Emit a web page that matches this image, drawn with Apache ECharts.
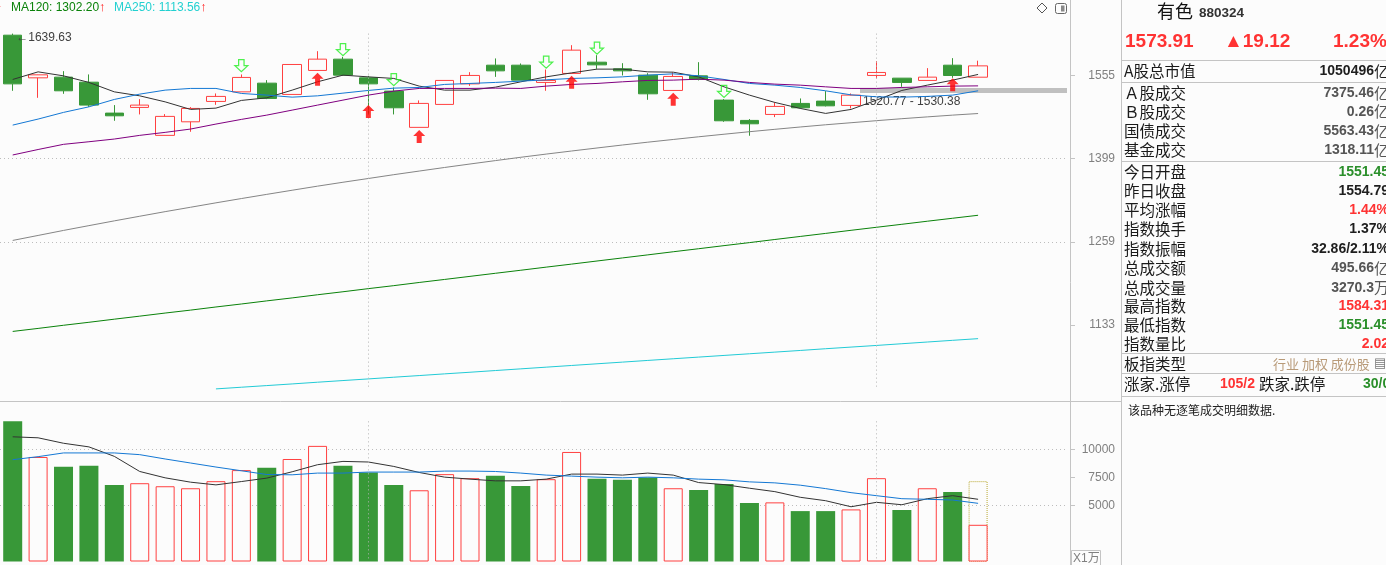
<!DOCTYPE html>
<html>
<head>
<meta charset="utf-8">
<title>有色 880324</title>
<script src="https://cdn.jsdelivr.net/npm/echarts@6.0.0/dist/echarts.min.js"></script>
<style>
html,body{margin:0;padding:0;background:#fcfcfc;overflow:hidden;}
#chart{width:1386px;height:565px;}
</style>
</head>
<body>
<div id="chart"></div>
<script>
// ---------------- DATA ----------------
const categories = ['K01','K02','K03','K04','K05','K06','K07','K08','K09','K10','K11','K12','K13','K14','K15','K16','K17','K18','K19','K20',
  'K21','K22','K23','K24','K25','K26','K27','K28','K29','K30','K31','K32','K33','K34','K35','K36','K37','K38','K39'];
const opens  = [1636.4,1550.2,1551.6,1541.7,1482.4,1493.1,1441.1,1466.1,1504.5,1522.9,1539.8,1517.9,1564.8,1587.4,1550.2,1524.3,1455.8,1498.8,1538.4,1575.3,
  1575.3,1541.2,1558.9,1581.3,1568.0,1555.5,1525.6,1554.1,1507.0,1468.7,1479.9,1500.7,1505.1,1496.9,1554.9,1549.6,1545.1,1575.3,1551.45];
const closes = [1538.4,1556.1,1524.9,1497.5,1477.3,1497.5,1476.2,1491.2,1514.1,1551.0,1510.2,1576.7,1587.4,1555.5,1538.4,1492.4,1500.7,1545.1,1554.9,1564.0,
  1545.7,1545.1,1605.6,1575.9,1564.0,1519.1,1552.9,1547.0,1468.0,1462.4,1495.0,1492.4,1496.1,1516.6,1560.8,1541.2,1551.6,1554.79,1573.91];
const lows   = [1524.9,1511.4,1519.1,1494.2,1468.0,1479.9,1441.1,1447.7,1498.0,1522.9,1508.9,1517.9,1564.8,1554.1,1479.9,1479.9,1455.8,1498.8,1534.5,1552.1,
  1545.7,1524.9,1558.9,1568.0,1554.9,1507.6,1525.6,1545.1,1466.1,1440.4,1474.9,1491.2,1495.0,1491.2,1549.0,1532.6,1545.1,1550.2,1551.45];
const highs  = [1639.63,1556.4,1563.4,1556.9,1497.5,1508.9,1480.5,1493.7,1519.8,1556.9,1545.7,1577.2,1603.5,1592.0,1554.1,1531.4,1506.4,1545.1,1561.4,1588.8,
  1578.7,1566.7,1615.8,1595.4,1579.3,1559.4,1560.8,1581.3,1508.9,1471.2,1502.6,1510.2,1524.3,1519.8,1583.4,1549.6,1569.4,1589.4,1584.31];

const ma5   = [1547.0,1562.0,1554.1,1541.2,1522.9,1515.2,1503.7,1489.3,1491.8,1506.4,1511.4,1526.2,1542.4,1555.5,1552.1,1549.0,1534.0,1526.2,1526.2,1532.0,
  1542.4,1552.1,1560.0,1567.4,1567.4,1562.0,1561.4,1552.1,1532.6,1516.6,1502.6,1491.2,1481.8,1489.3,1507.0,1525.6,1535.9,1545.7,1556.9];
const ma10  = [1460.0,1471.2,1483.7,1494.2,1508.3,1518.5,1526.2,1529.5,1529.5,1519.8,1516.6,1512.7,1515.2,1520.4,1525.6,1530.1,1531.4,1537.3,1539.2,1541.2,
  1543.7,1546.3,1549.0,1550.2,1552.1,1555.5,1558.1,1554.1,1547.0,1539.2,1535.9,1531.4,1524.9,1517.1,1513.3,1512.7,1514.1,1516.6,1524.9];
const ma20  = [1405.7,1415.5,1424.8,1429.5,1434.4,1441.1,1446.6,1452.7,1461.9,1470.6,1478.6,1488.0,1497.5,1507.0,1516.6,1524.3,1529.5,1529.5,1529.5,1530.1,
  1529.5,1534.0,1537.3,1539.2,1542.4,1545.1,1545.7,1547.6,1545.7,1541.2,1537.9,1535.9,1532.6,1529.5,1529.5,1531.4,1532.6,1534.0,1534.5];
const ma60  = [1261.3,1269.3,1277.4,1285.2,1293.0,1300.6,1308.2,1315.5,1322.9,1330.1,1337.2,1344.2,1351.2,1357.9,1364.4,1371.0,1377.3,1383.6,1389.7,1395.7,
  1401.6,1407.3,1412.8,1418.2,1423.6,1428.7,1433.6,1438.5,1443.2,1447.8,1452.2,1456.5,1460.6,1464.4,1468.2,1471.9,1475.3,1478.6,1481.6];
const ma120 = [1123.8,1128.1,1132.6,1136.9,1141.4,1145.8,1150.3,1154.6,1159.2,1163.6,1168.2,1172.6,1177.3,1181.8,1186.5,1191.0,1195.8,1200.4,1205.1,1209.8,
  1214.5,1219.3,1224.0,1228.8,1233.6,1238.4,1243.3,1248.1,1253.0,1257.8,1262.8,1267.7,1272.6,1277.6,1282.5,1287.4,1292.4,1297.3,1302.20];
const ma250 = [null,null,null,null,null,null,null,null,1044.8,1047.0,1049.2,1051.4,1053.7,1055.9,1058.1,1060.4,1062.6,1064.9,1067.1,1069.4,
  1071.7,1074.0,1076.3,1078.6,1080.9,1083.2,1085.5,1087.8,1090.1,1092.4,1094.7,1097.0,1099.4,1101.7,1104.0,1106.4,1108.8,1111.2,1113.56];

const volumes = [12489,9316,8446,8536,6828,6978,6708,6528,7158,8146,8356,9136,10305,8536,7936,6828,6348,7786,7426,7637,
  6738,7337,9763,7367,7277,7487,6528,6379,6918,5211,5271,4492,4492,4642,7426,4581,6528,6199,3270.3];
const forecastVolume = 7160;
const volMa5  = [11114,11025,10539,10216,9371,8024,7458,7071,6829,7125,7431,7997,8626,8922,8868,8473,7934,7520,7341,7188,
  7188,7341,7790,7790,7700,7880,7700,7035,6855,6532,6227,5723,5418,4879,5274,5059,5598,5867,5544];
const volMa10 = [9075,9344,9677,9677,9677,9524,9138,8778,8419,8087,7754,7727,7880,7880,7970,7970,7970,8060,8060,8024,
  7880,7700,7610,7520,7458,7520,7458,7341,7278,7098,7008,6802,6496,6137,5867,5598,5544,5481,5184];

const upArrowIdx   = [12,14,16,22,26,37];
const upArrowVal   = [1547.6,1485.2,1438.9,1541.7,1508.9,1536.9];
const downArrowIdx = [9,13,15,21,23,28];
const downArrowVal = [1574.3,1606.6,1546.6,1581.3,1609.7,1523.7];
const separatorIdx = [14,34];
const rangeBand = [1520.77,1530.38];

const priceTicks = [1133,1259,1399,1555];
const volTicks = [5000,7500,10000];

const headerName = '有色', headerCode = '880324';
const headerQuote = ['1573.91','▲19.12','1.23%'];
const panelLabels = ['A股总市值','Ａ股成交','Ｂ股成交','国债成交','基金成交','今日开盘','昨日收盘','平均涨幅','指数换手','指数振幅',
  '总成交额','总成交量','最高指数','最低指数','指数量比','板指类型'];
const panelValues = ['1050496亿','7375.46亿','0.26亿','5563.43亿','1318.11亿','1551.45','1554.79','1.44%','1.37%','32.86/2.11%',
  '495.66亿','3270.3万','1584.31','1551.45','2.02','行业 加权 成份股'];
const panelTones  = ['k','g','g','g','g','up','k','dn','k','k','g','g','dn','up','dn','t'];
const breadth = ['涨家.涨停','105/2','跌家.跌停','30/0'];
const tickNote = '该品种无逐笔成交明细数据.';

// ---------------- STYLE / LAYOUT ----------------
const BG = '#fcfcfc', GREEN = '#389838', RED = '#ff4040';
const NUM = '"Liberation Sans", Arial, sans-serif';
const CJK = '"Noto Sans CJK SC", sans-serif';
const toneColor = {k:'#1e1e1e', g:'#555555', up:'#2a8f2a', dn:'#ff3333', t:'#b89a78'};
const panelRowY = [71.3,92.8,111.7,130.8,150,172,191,210,229.5,248.7,268,287.7,306,325,343.7,363.7];
const UNIT_PX = 83.2;          // pixels per price tick step
const PRICE_MIN = -1, PRICE_MAX = 3.9;

const LN_STEP = Math.log(priceTicks[3] / priceTicks[0]) / 3;
function U(p) { return p == null ? null : Math.log(p / priceTicks[0]) / LN_STEP; }
function priceLabel(v) {
  for (const t of priceTicks) if (Math.abs(U(t) - v) < 0.01) return String(t);
  return '';
}

const kData = categories.map((c, i) => [U(opens[i]), U(closes[i]), U(lows[i]), U(highs[i])]);
const maxHigh = Math.max(...highs);
const maxHighIdx = highs.indexOf(maxHigh);
const allLows = lows.concat(ma5, ma10, ma20, ma60, ma120, ma250.filter(v => v != null));
const minPrice = Math.min(...allLows);
const maxVol = Math.max(...volumes);

function maLine(name, arr, color) {
  return {
    name, type: 'line', xAxisIndex: 0, yAxisIndex: 0, data: arr.map(U),
    showSymbol: false, symbol: 'none', z: 4, silent: true,
    lineStyle: {color, width: 1}, connectNulls: false
  };
}

const upPath = 'path://M6,0 L12,6 L8.5,6 L8.5,13 L3.5,13 L3.5,6 L0,6 Z';
const downPath = 'path://M3.5,0 L8.5,0 L8.5,6 L12,6 L6,12 L0,6 L3.5,6 Z';

// ---------------- GRAPHIC (panel, frame) ----------------
const graphic = [];
function hline(x1, x2, y, color) {
  graphic.push({type:'line', silent:true, shape:{x1, y1:y, x2, y2:y}, style:{stroke:color || '#c4c4c4', lineWidth:1}});
}
function vline(x, y1, y2, color) {
  graphic.push({type:'line', silent:true, shape:{x1:x, y1, x2:x, y2}, style:{stroke:color || '#c4c4c4', lineWidth:1}});
}
function text(x, y, t, style) {
  graphic.push({type:'text', silent:true, x, y, style:Object.assign({text:t, verticalAlign:'middle', align:'left'}, style)});
}
vline(1070.5, 0, 565);
vline(1121.5, 0, 565);
hline(0, 1121, 401.5);
[60.5, 82.5, 161.5, 353.5, 373.5, 396.5].forEach(y => hline(1121, 1386, y));

// legend at top
text(-4, 8, '↑', {fill:'#ff2020', fontSize:13, fontFamily:NUM});
text(11, 7.5, '{a|MA120: ' + ma120[ma120.length-1].toFixed(2) + '}{r|↑}', {rich:{
  a:{fill:'#0a820a', fontSize:12, fontFamily:NUM}, r:{fill:'#ff2020', fontSize:13, fontFamily:NUM}}});
text(114, 7.5, '{a|MA250: ' + ma250[ma250.length-1].toFixed(2) + '}{r|↑}', {rich:{
  a:{fill:'#22d0d0', fontSize:12, fontFamily:NUM}, r:{fill:'#ff2020', fontSize:13, fontFamily:NUM}}});

// top-right icons
graphic.push({type:'polygon', silent:true, shape:{points:[[1042,3],[1047,8],[1042,13],[1037,8]]}, style:{fill:'none', stroke:'#555', lineWidth:1}});
graphic.push({type:'rect', silent:true, shape:{x:1055.5, y:3.5, width:11, height:10, r:2}, style:{fill:'none', stroke:'#666', lineWidth:1}});
graphic.push({type:'rect', silent:true, shape:{x:1061, y:5.5, width:3.5, height:6}, style:{fill:'#888'}});

// X1万 box
graphic.push({type:'rect', silent:true, shape:{x:1071.5, y:550.5, width:29, height:15}, style:{fill:'none', stroke:'#c4c4c4', lineWidth:1}});
text(1073, 558.5, 'X1万', {fill:'#808080', fontSize:12, fontFamily:NUM + ',' + CJK});

// header
text(1157, 11.5, headerName, {fill:'#111', fontSize:18, fontFamily:CJK});
text(1199, 13, headerCode, {fill:'#333', fontSize:13.5, fontWeight:'bold', fontFamily:NUM});
text(1125, 42, headerQuote[0], {fill:'#ff3333', fontSize:19, fontWeight:'bold', fontFamily:NUM});
text(1224, 42, headerQuote[1], {fill:'#ff3333', fontSize:19, fontWeight:'bold', fontFamily:NUM + ',"DejaVu Sans"'});
text(1333, 42, headerQuote[2], {fill:'#ff3333', fontSize:19, fontWeight:'bold', fontFamily:NUM});

// panel rows
panelLabels.forEach((lab, i) => {
  const y = panelRowY[i];
  text(1124, y, lab, {fill:'#1a1a1a', fontSize:15.5, fontFamily:CJK});
  const val = panelValues[i];
  const col = toneColor[panelTones[i]];
  if (panelTones[i] === 't') {
    text(1273, y, '{a|' + val + '}{b| ▤}', {rich:{a:{fill:col, fontSize:13, fontFamily:CJK}, b:{fill:'#777', fontSize:13, fontFamily:'"DejaVu Sans"'}}});
  } else {
    const m = val.match(/^(.*?)([亿万]?)$/);
    text(1389, y, '{n|' + m[1] + '}' + (m[2] ? '{u|' + m[2] + '}' : ''), {align:'right', rich:{
      n:{fill:col, fontSize:14, fontWeight:'bold', fontFamily:NUM},
      u:{fill:col, fontSize:15, fontFamily:CJK}}});
  }
});
text(1124, 384, breadth[0], {fill:'#1a1a1a', fontSize:15.5, fontFamily:CJK});
text(1220, 384, breadth[1], {fill:'#ff3333', fontSize:14, fontWeight:'bold', fontFamily:NUM});
text(1259, 384, breadth[2], {fill:'#1a1a1a', fontSize:15.5, fontFamily:CJK});
text(1363, 384, breadth[3], {fill:'#2a8f2a', fontSize:14, fontWeight:'bold', fontFamily:NUM});
text(1128, 410.5, tickNote, {fill:'#222', fontSize:12, fontFamily:CJK});

// ---------------- OPTION ----------------
const axisGray = '#c4c4c4';
const priceBottom = 325 - PRICE_MIN * UNIT_PX;           // y pixel of PRICE_MIN
const priceTop = 325 - PRICE_MAX * UNIT_PX;
const option = {
  backgroundColor: BG,
  animation: false,
  grid: [
    {left: 0, top: priceTop, width: 1067, height: priceBottom - priceTop},
    {left: 0, top: 393.2, width: 1067, height: 168.3}
  ],
  xAxis: [
    {type:'category', gridIndex:0, data:categories, max:41, show:false},
    {type:'category', gridIndex:1, data:categories, max:41, show:false}
  ],
  yAxis: [
    {type:'value', gridIndex:0, position:'right', offset:3, min:PRICE_MIN, max:PRICE_MAX, interval:1, scale:false,
      axisLine:{show:false},
      axisTick:{show:true, length:5, lineStyle:{color:axisGray}, customValues:priceTicks.map(U)},
      axisLabel:{show:true, customValues:priceTicks.map(U), formatter:priceLabel, align:'right', margin:45,
        color:'#808080', fontSize:12, fontFamily:NUM},
      splitLine:{show:true, showMinLine:false, showMaxLine:false, lineStyle:{color:'#bdbdbd', type:[1,3], width:1}}},
    {type:'value', gridIndex:1, position:'right', offset:3, min:0, max:15000, interval:2500,
      axisLine:{show:false},
      axisTick:{show:true, length:5, lineStyle:{color:axisGray}, customValues:volTicks},
      axisLabel:{show:true, customValues:volTicks, formatter:v => volTicks.indexOf(v) >= 0 ? String(v) : '',
        align:'right', margin:45, color:'#808080', fontSize:12, fontFamily:NUM},
      splitLine:{show:false}},
    {type:'value', gridIndex:1, position:'right', min:0, max:15000, interval:5000,
      axisLine:{show:false}, axisTick:{show:false}, axisLabel:{show:false},
      splitLine:{show:true, showMinLine:false, showMaxLine:false, lineStyle:{color:'#bdbdbd', type:[1,3], width:1}}}
  ],
  series: [
    {
      name:'K', type:'candlestick', xAxisIndex:0, yAxisIndex:0, data:kData, barWidth:19, z:2,
      itemStyle:{color:BG, color0:GREEN, borderColor:RED, borderColor0:GREEN, borderWidth:1},
      markLine:{silent:true, symbol:['none','none'], label:{show:false}, animation:false,
        lineStyle:{color:'#b4b4b4', type:[1,3], width:1},
        data: separatorIdx.map(i => [{xAxis:categories[i], yAxis:U(maxHigh)}, {xAxis:categories[i], yAxis:U(minPrice)}])},
      markArea:{silent:true, itemStyle:{color:'#c0c0c0'},
        label:{show:true, position:[3,8], color:'#404040', fontSize:12, fontFamily:NUM,
          formatter: rangeBand[0].toFixed(2) + ' - ' + rangeBand[1].toFixed(2)},
        data:[[{x:860, yAxis:U(rangeBand[1])}, {x:1067, yAxis:U(rangeBand[0])}]]},
      markPoint:{silent:true, symbol:'circle', symbolSize:1, itemStyle:{color:'rgba(0,0,0,0)'},
        label:{show:true, position:'right', distance:3, offset:[0,4], color:'#404040', fontSize:12, fontFamily:NUM + ',"DejaVu Sans"',
          formatter:'←' + maxHigh.toFixed(2)},
        data:[{coord:[categories[maxHighIdx], U(maxHigh)]}]}
    },
    maLine('MA5', ma5, '#333333'),
    maLine('MA10', ma10, '#1478d4'),
    maLine('MA20', ma20, '#800080'),
    maLine('MA60', ma60, '#858585'),
    maLine('MA120', ma120, '#0a820a'),
    maLine('MA250', ma250, '#22cbd6'),
    {
      name:'买入', type:'scatter', xAxisIndex:0, yAxisIndex:0, symbol:upPath, symbolSize:[12,13], z:6, silent:true,
      itemStyle:{color:'#ff0000'},
      data: upArrowIdx.map((i, k) => [categories[i], U(upArrowVal[k])])
    },
    {
      name:'卖出', type:'scatter', xAxisIndex:0, yAxisIndex:0, symbol:downPath, symbolSize:[13,12], z:6, silent:true,
      itemStyle:{color:'rgba(255,255,255,0)', borderColor:'#22ee22', borderWidth:1.2},
      data: downArrowIdx.map((i, k) => [categories[i], U(downArrowVal[k])])
    },
    {
      name:'预估量', type:'bar', xAxisIndex:1, yAxisIndex:1, barWidth:19, barGap:'-100%', z:1, silent:true,
      itemStyle:{color:'rgba(0,0,0,0)', borderColor:'#b8a830', borderWidth:1, borderType:'dotted'},
      data: categories.map((c, i) => i === categories.length - 1 ? forecastVolume : null)
    },
    {
      name:'VOL', type:'bar', xAxisIndex:1, yAxisIndex:1, barWidth:19, barGap:'-100%', z:2, silent:true,
      data: volumes.map((v, i) => ({value:v, itemStyle: closes[i] >= opens[i]
        ? {color:BG, borderColor:RED, borderWidth:1}
        : {color:GREEN, borderColor:GREEN, borderWidth:0}})),
      markLine:{silent:true, symbol:['none','none'], label:{show:false}, animation:false,
        lineStyle:{color:'#b4b4b4', type:[1,3], width:1},
        data: separatorIdx.map(i => [{xAxis:categories[i], yAxis:maxVol}, {xAxis:categories[i], yAxis:0}])}
    },
    {name:'VMA5', type:'line', xAxisIndex:1, yAxisIndex:1, data:volMa5, showSymbol:false, symbol:'none', z:4, silent:true,
      lineStyle:{color:'#333333', width:1}},
    {name:'VMA10', type:'line', xAxisIndex:1, yAxisIndex:1, data:volMa10, showSymbol:false, symbol:'none', z:4, silent:true,
      lineStyle:{color:'#1478d4', width:1}}
  ],
  graphic: graphic
};

const chart = echarts.init(document.getElementById('chart'), null, {renderer:'canvas'});
chart.setOption(option);
</script>
</body>
</html>
